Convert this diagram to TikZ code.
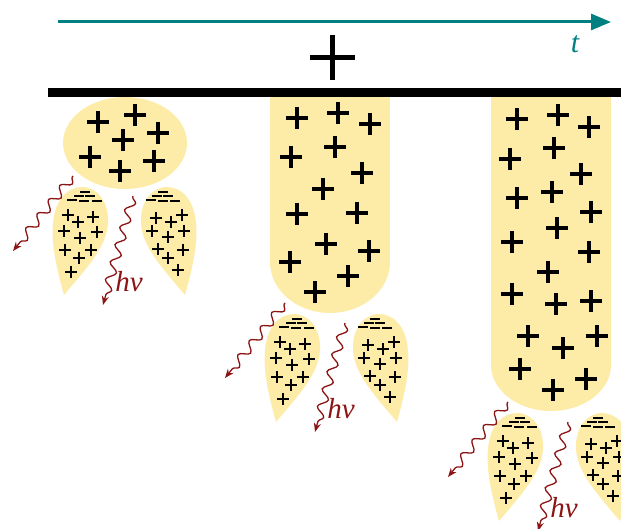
\documentclass[tikz,border=0pt]{standalone}
\usepackage{fontspec}
\setmainfont{Liberation Serif}
\usetikzlibrary{arrows.meta,decorations.pathmorphing}
\definecolor{dropfill}{RGB}{253,235,168}
\definecolor{timeteal}{RGB}{0,128,128}
\definecolor{photonred}{RGB}{140,20,20}

\tikzset{
  timeaxis/.style={draw=timeteal, line width=3pt, -{Triangle[length=20pt,width=16pt]}},
  tlabel/.style={text=timeteal, font=\fontsize{30}{30}\selectfont\itshape, inner sep=0pt},
  hvlabel/.style={text=photonred, font=\fontsize{29}{29}\selectfont\itshape, inner sep=0pt},
  wave/.style={draw=photonred, line width=1.3pt, decorate,
    decoration={snake, amplitude=4.5pt, segment length=18pt, pre length=1pt, post length=7pt},
    -{Stealth[length=9pt,width=7pt]}},
  plusL/.pic={\draw[line width=3.4pt] (-11,0) -- (11,0) (0,-11) -- (0,11);},
  plusS/.pic={\draw[line width=1.8pt] (-6,0) -- (6,0) (0,-6) -- (0,6);},
  minusS/.pic={\draw[line width=1.7pt] (-5,0) -- (5,0);},
  % teardrop with its top at the origin, tip towards the lower left
  dropshape/.pic={\fill[dropfill] (-18,108) .. controls (-25,83) and (-31,58) .. (-29,36)
      .. controls (-27,12) and (-14,0) .. (0,0)
      .. controls (16,0) and (27,16) .. (26,36)
      .. controls (25,60) and (3,83) .. (-18,108) -- cycle;},
  % pair of ejected droplets with their photons
  emission/.pic={
    \pic at (82,187) {dropshape};
    \pic[xscale=-1] at (167,187) {dropshape};
    \foreach \x/\y in {85/192,79/196,90/196,72/200,84/201,97/201,
                       163/192,157/196,168/196,151/200,163/201,175/201}
      \pic at (\x,\y) {minusS};
    \foreach \x/\y in {68/215,78/222,93/217,64/231,80/238,97/232,65/250,79/258,91/250,71/272,
                       156/218,171/222,182/215,152/231,168/237,184/231,158/249,168/258,183/250,178/270}
      \pic at (\x,\y) {plusS};
    \coordinate (wa) at (73,176);
    \coordinate (wb) at (13,251);
    \coordinate (wc) at (133,196);
    \coordinate (wd) at (103,305);
    \draw[wave] (wa) -- (wb);
    \draw[wave] (wc) -- (wd);
    \node[hvlabel] (hv) at (129,282) {hv};
  }
}

\begin{document}
\begin{tikzpicture}[x=1pt,y=-1pt]
\useasboundingbox (0,0) rectangle (621,529);
\clip (0,0) rectangle (621,529);

% time axis
\coordinate (tstart) at (58,22);
\coordinate (tend) at (611,22);
\draw[timeaxis] (tstart) -- (tend);
\node[tlabel] (tlab) at (575,44) {t};

% electrode polarity
\draw[line width=5pt] (310,58) -- (355,58) (332.5,35) -- (332.5,80);

% charge clouds growing from the electrode
\fill[dropfill] (125,143) ellipse [x radius=62, y radius=46];
\fill[dropfill] (270,97) rectangle (390,262);
\fill[dropfill] (330,262) ellipse [x radius=60, y radius=51];
\fill[dropfill] (491,97) rectangle (611,365);
\fill[dropfill] (551,365) ellipse [x radius=60, y radius=46];

\foreach \x/\y in {98/122,135/115,158/133,123/140,90/157,154/161,120/171}
  \pic at (\x,\y) {plusL};
\foreach \x/\y in {297/118,338/113,370/124,291/157,335/147,362/173,323/189,
                   297/214,357/213,326/244,369/251,290/262,348/276,315/292}
  \pic at (\x,\y) {plusL};
\foreach \x/\y in {517/119,558/115,589/127,510/159,554/148,581/174,517/198,552/192,
                   591/212,512/242,557/228,589/252,548/272,512/294,556/304,591/301,
                   528/336,563/348,597/336,520/369,553/390,586/379}
  \pic at (\x,\y) {plusL};

% electrode
\fill[black] (48,88) rectangle (621,97);

% emitted droplets at three moments
\pic (g1) at (0,0) {emission};
\pic (g2) at (212,127) {emission};
\pic (g3) at (435,226) {emission};
\end{tikzpicture}
\end{document}
